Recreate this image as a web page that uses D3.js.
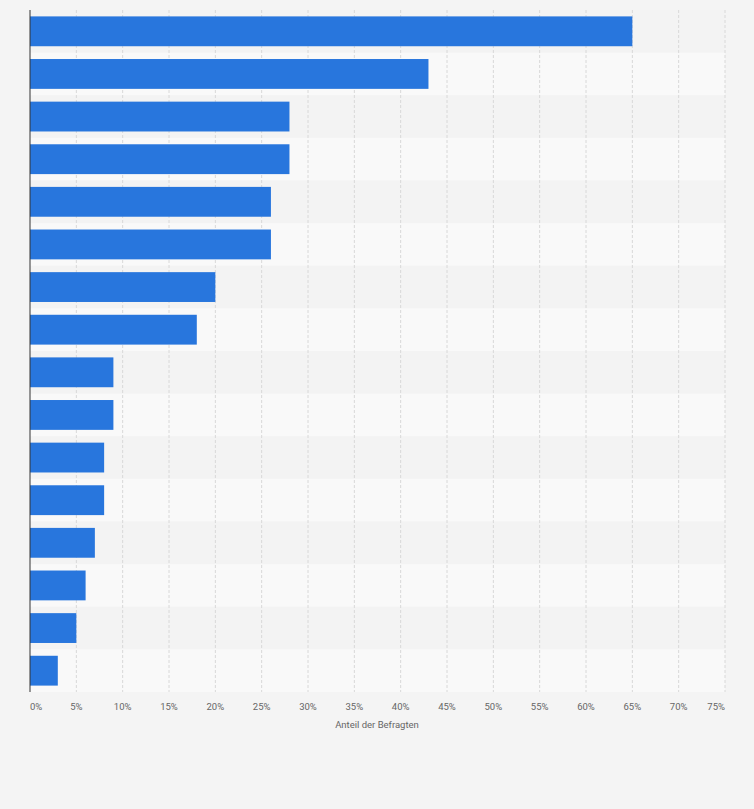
<!DOCTYPE html><html><head><meta charset="utf-8"><script src="https://cdn.jsdelivr.net/npm/d3@7"></script>
<style>body{margin:0;background:#f4f4f4}</style></head><body><svg id="c" width="754" height="809"></svg>
<script>
const categories=d3.range(1,17).map(String);
const values=[65,43,28,28,26,26,20,18,9,9,8,8,7,6,5,3];
const ticks=[0,5,10,15,20,25,30,35,40,45,50,55,60,65,70,75];
const svg=d3.select("#c");
const m={l:30,t:10,r:725,b:692};
const x=d3.scaleLinear().domain([0,75]).range([m.l,m.r]);
const y=d3.scaleBand().domain(categories).range([m.t,m.b]).paddingInner(0.3).paddingOuter(0.15);
const yr=d3.scaleBand().domain(categories).range([m.t,m.b]);
svg.selectAll(".row").data(categories).join("rect").attr("x",m.l).attr("width",m.r-m.l)
 .attr("y",d=>yr(d)).attr("height",yr.bandwidth()).attr("fill",(d,i)=>i%2?"#f9f9f9":"#f3f3f3");
svg.selectAll(".g").data(ticks.slice(1)).join("line").attr("x1",d=>x(d)).attr("x2",d=>x(d))
 .attr("y1",m.t).attr("y2",m.b).attr("stroke","#d8d8d8").attr("stroke-dasharray","3,2");
svg.selectAll(".bar").data(values).join("rect").attr("x",x(0)).attr("y",(d,i)=>y(categories[i]))
 .attr("width",d=>x(d)-x(0)).attr("height",y.bandwidth()).attr("fill","#2876dd");
svg.append("line").attr("x1",m.l).attr("x2",m.l).attr("y1",m.t).attr("y2",m.b).attr("stroke","#333");
svg.selectAll(".tl").data(ticks).join("text").attr("x",d=>x(d)).attr("y",710)
 .attr("text-anchor",(d,i)=>i==0?"start":i==ticks.length-1?"end":"middle")
 .attr("font-family","Roboto, sans-serif").attr("font-size",9.5).attr("fill","#666").text(d=>d+"%");
svg.append("text").attr("x",377).attr("y",728).attr("text-anchor","middle")
 .attr("font-family","Roboto, sans-serif").attr("font-size",9.5).attr("fill","#666").text("Anteil der Befragten");
</script></body></html>
